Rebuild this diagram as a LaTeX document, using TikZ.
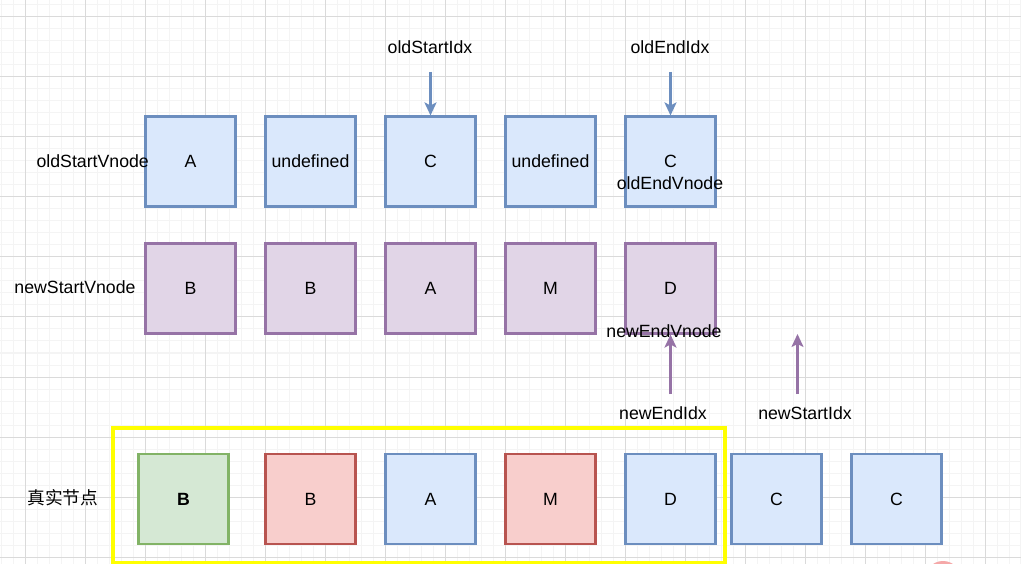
\documentclass[tikz,border=0pt]{standalone}
\usepackage{fontspec}
\setmainfont{Liberation Sans}
\newfontfamily\cjk{Noto Sans CJK SC}
\usetikzlibrary{arrows.meta}
\definecolor{bfill}{HTML}{DAE8FC}
\definecolor{bline}{HTML}{6C8EBF}
\definecolor{pfill}{HTML}{E1D5E7}
\definecolor{pline}{HTML}{9673A6}
\definecolor{gfill}{HTML}{D5E8D4}
\definecolor{gline}{HTML}{82B366}
\definecolor{rfill}{HTML}{F8CECC}
\definecolor{rline}{HTML}{B85450}
\definecolor{minorgrid}{HTML}{F4F4F4}
\definecolor{majorgrid}{HTML}{DADADA}
\definecolor{yframe}{HTML}{FFFF00}
\definecolor{pinkdot}{HTML}{F5A8A8}
\newcommand\fs{\fontsize{17.7}{21}\selectfont}
\tikzset{
  box/.style={draw, minimum width=90pt, minimum height=90pt, line width=2.1pt, inner sep=0pt, font=\fs},
  bluebox/.style={box, fill=bfill, draw=bline},
  purplebox/.style={box, fill=pfill, draw=pline},
  greenbox/.style={box, fill=gfill, draw=gline},
  redbox/.style={box, fill=rfill, draw=rline},
  lbl/.style={inner sep=0pt, font=\fs},
  barrow/.style={draw=bline, line width=2.1pt, -{Stealth[length=13pt,width=12pt,inset=3pt]}},
  parrow/.style={draw=pline, line width=2.1pt, -{Stealth[length=13pt,width=12pt,inset=3pt]}}
}
\begin{document}
\begin{tikzpicture}[x=1pt,y=-1pt]
\useasboundingbox (0,0) rectangle (1021,564);
\clip (0,0) rectangle (1021,564);
\fill[white] (0,0) rectangle (1021,564);
% grid
\draw[minorgrid, line width=1pt, shift={(1,5)}] (-1,-5) grid[step=12pt] (1020,559);
\draw[majorgrid, line width=1pt, shift={(25,17)}] (-25,-17) grid[step=60pt] (996,547);

% row 1 (old)
\node[bluebox] (o1) at (190.5,161.5) {A};
\node[bluebox] (o2) at (310.5,161.5) {undefined};
\node[bluebox] (o3) at (430.5,161.5) {C};
\node[bluebox] (o4) at (550.5,161.5) {undefined};
\node[bluebox] (o5) at (670.5,161.5) {C};
\node[lbl] (oev) at (670,183) {oldEndVnode};
\node[lbl, anchor=east] (osv) at (149,161) {oldStartVnode};

% row 2 (new)
\node[purplebox] (n1) at (190.5,288.5) {B};
\node[purplebox] (n2) at (310.5,288.5) {B};
\node[purplebox] (n3) at (430.5,288.5) {A};
\node[purplebox] (n4) at (550.5,288.5) {M};
\node[purplebox] (n5) at (670.5,288.5) {D};
\node[lbl] (nsv) at (75,287) {newStartVnode};
\node[lbl] (nev) at (664,331) {newEndVnode};

% index labels and arrows
\node[lbl] (osi) at (430,47) {oldStartIdx};
\node[lbl] (oei) at (670,47) {oldEndIdx};
\coordinate (osiT) at (430.5,72);
\coordinate (oeiT) at (670.5,72);
\draw[barrow] (osiT) -- (o3.north);
\draw[barrow] (oeiT) -- (o5.north);

\node[lbl] (nei) at (663,413) {newEndIdx};
\node[lbl] (nsi) at (805,413) {newStartIdx};
\coordinate (neiT) at (670.5,394);
\coordinate (nsiT) at (797.5,394);
\coordinate (nsiH) at (797.5,334);
\draw[parrow] (neiT) -- (n5.south);
\draw[parrow] (nsiT) -- (nsiH);

% real nodes
\node[draw=yframe, line width=3.2pt, minimum width=612pt, minimum height=135pt, inner sep=0pt] (frame) at (419,495.5) {};
\node[lbl] (real) at (63,498) {\cjk 真实节点};
\node[greenbox, font=\fs\bfseries] (r1) at (183.5,499) {B};
\node[redbox] (r2) at (310.5,499) {B};
\node[bluebox] (r3) at (430.5,499) {A};
\node[redbox] (r4) at (550.5,499) {M};
\node[bluebox] (r5) at (670.5,499) {D};
\node[bluebox] (r6) at (776.5,499) {C};
\node[bluebox] (r7) at (896.5,499) {C};

% partial pink mark at bottom edge
\fill[pinkdot] (943,579) circle (18pt);
\end{tikzpicture}
\end{document}
